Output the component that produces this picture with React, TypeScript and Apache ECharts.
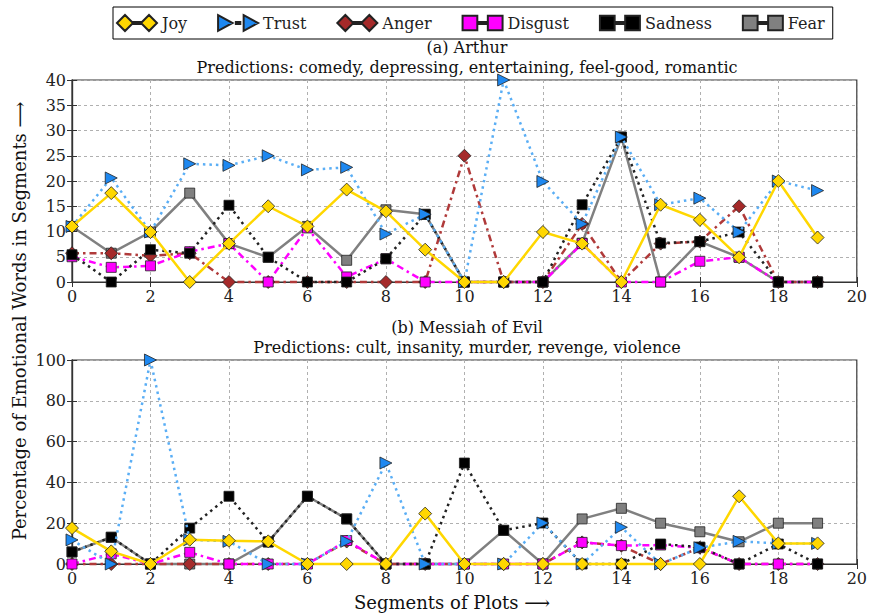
import React, { useEffect, useRef } from "react";
import * as echarts from "echarts";

const segments = [0, 1, 2, 3, 4, 5, 6, 7, 8, 9, 10, 11, 12, 13, 14, 15, 16, 17, 18, 19];
const emotions = ["Joy", "Trust", "Anger", "Disgust", "Sadness", "Fear"];

// (a) Arthur
const joyA = [11.0, 17.6, 9.9, 0, 7.6, 15.0, 11.0, 18.3, 14.0, 6.4, 0, 0, 9.9, 7.6, 0, 15.3, 12.3, 4.9, 20.0, 8.8];
const trustA = [11.0, 20.6, 9.9, 23.4, 23.1, 25.0, 22.2, 22.7, 9.5, 13.4, 0, 40, 19.9, 11.5, 28.7, 15.3, 16.6, 9.9, 20.0, 18.1];
const angerA = [5.7, 5.7, 5.2, 5.7, 0, 0, 0, 0, 0, 0, 25.0, 0, 0, 11.5, 0, 7.6, 8.0, 15.0, 0, 0];
const disgustA = [5.0, 2.9, 3.2, 6.0, 7.6, 0, 10.7, 1.0, 4.6, 0, 0, 0, 0, 7.6, 0, 0, 4.1, 4.9, 0, 0];
const sadnessA = [5.4, 0, 6.4, 5.7, 15.2, 4.9, 0, 0, 4.6, 13.4, 0, 0, 0, 15.3, 28.7, 7.7, 8.0, 9.9, 0, 0];
const fearA = [11.0, 5.7, 9.9, 17.6, 7.6, 4.9, 11.0, 4.3, 14.3, 13.4, 0, 0, 0, 7.7, 28.7, 0, 8.0, 4.9, 0, 0];

// (b) Messiah of Evil
const joyB = [17.6, 6.2, 0, 11.9, 11.4, 11.1, 0, 0, 0, 24.7, 0, 0, 0, 0, 0, 0, 0, 33.2, 10.1, 10.1];
const trustB = [11.8, 0, 100, 11.9, 11.1, 0, 0, 11.1, 49.5, 0, 0, 0, 20.1, 0, 18.0, 0, 8.0, 11.1, 10.1, 10.1];
const angerB = [0, 0, 0, 0, 0, 0, 0, 11.0, 0, 0, 0, 0, 0, 10.6, 9.0, 0, 8.0, 0, 0, 0];
const disgustB = [0, 5.0, 0, 5.7, 0, 0, 0, 11.5, 0, 0, 0, 0, 0, 10.6, 9.0, 9.3, 8.0, 0, 0, 0];
const sadnessB = [5.9, 13.1, 0, 17.6, 33.2, 10.8, 33.2, 22.1, 0, 0, 49.5, 16.5, 20.1, 0, 0, 9.8, 8.3, 0, 9.8, 0];
const fearB = [5.9, 13.1, 0, 0, 0, 10.8, 33.2, 22.1, 0, 0, 0, 16.5, 0, 22.1, 27.3, 20.0, 15.8, 10.9, 20.0, 20.0];

const panelTitles = ["(a) Arthur", "(b) Messiah of Evil"];
const panelSubtitles = [
  "Predictions: comedy, depressing, entertaining, feel-good, romantic",
  "Predictions: cult, insanity, murder, revenge, violence",
];
const yLabel = "Percentage of Emotional Words in Segments \u27F6";
const xLabel = "Segments of Plots \u27F6";

const panels = [
  { values: [joyA, trustA, angerA, disgustA, sadnessA, fearA], yMax: 40, yInterval: 5 },
  { values: [joyB, trustB, angerB, disgustB, sadnessB, fearB], yMax: 100, yInterval: 20 },
];

const FONT = "'DejaVu Serif', serif";

const DIAMOND_ICON = "path://M0,8L8,0L16,8L8,16Z M16,7H24V9H16Z M24,8L32,0L40,8L32,16Z";
const TRI_ICON = "path://M2,1L15,8L2,15Z M18,7H22V9H18Z M25,1L38,8L25,15Z";
const SQUARE_ICON = "path://M1,1H15V15H1Z M15,7H25V9H15Z M25,1H39V15H25Z";

const styles: Record<string, any> = {
  Joy: { color: "#FFD700", lineColor: "#FFD700", symbol: "diamond", size: 13, rotate: 0, line: "solid", z: 6, icon: DIAMOND_ICON },
  Trust: { color: "#1E88F0", lineColor: "#5AAEF5", symbol: "triangle", size: 12, rotate: -90, line: [2.5, 4], z: 5, icon: TRI_ICON },
  Anger: { color: "#A52A2A", lineColor: "#B03A3A", symbol: "diamond", size: 13, rotate: 0, line: [7, 4, 2.5, 4], z: 2, icon: DIAMOND_ICON },
  Disgust: { color: "#FF00FF", lineColor: "#FF00FF", symbol: "rect", size: 10, rotate: 0, line: [7, 4, 2.5, 4], z: 3, icon: SQUARE_ICON },
  Sadness: { color: "#000000", lineColor: "#222222", symbol: "rect", size: 10, rotate: 0, line: [2.5, 4], z: 4, icon: SQUARE_ICON },
  Fear: { color: "#808080", lineColor: "#808080", symbol: "rect", size: 10, rotate: 0, line: "solid", z: 1, icon: SQUARE_ICON },
};

const GRID_LEFT = 72;
const GRID_RIGHT = 8;
const gridTops = [80, 360];
const gridHeights = [202, 204];

function buildOption() {
  const grid = gridTops.map((top, i) => ({
    left: GRID_LEFT,
    right: GRID_RIGHT,
    top,
    height: gridHeights[i],
    show: true,
    borderColor: "#333",
    borderWidth: 1.2,
  }));

  const xAxis: any[] = [];
  const yAxis: any[] = [];
  panels.forEach((p, g) => {
    xAxis.push({
      gridIndex: g,
      type: "value",
      min: 0,
      max: 20,
      interval: 2,
      position: "bottom",
      axisLine: { show: true, lineStyle: { color: "#333", width: 1.2 } },
      axisTick: { show: true, inside: true, length: 5, lineStyle: { color: "#333" } },
      axisLabel: { margin: 6, fontFamily: FONT, fontSize: 16, color: "#222" },
      splitLine: { show: true, lineStyle: { type: [3, 3], color: "#b0b0b0", width: 1 } },
    });
    xAxis.push({
      gridIndex: g,
      type: "value",
      min: 0,
      max: 20,
      interval: 2,
      position: "top",
      axisLine: { show: true, lineStyle: { color: "#333", width: 1.2 } },
      axisTick: { show: true, inside: true, length: 5, lineStyle: { color: "#333" } },
      axisLabel: { show: false },
      splitLine: { show: false },
    });
    yAxis.push({
      gridIndex: g,
      type: "value",
      min: 0,
      max: p.yMax,
      interval: p.yInterval,
      position: "left",
      axisLine: { show: true, lineStyle: { color: "#333", width: 1.2 } },
      axisTick: { show: true, inside: true, length: 5, lineStyle: { color: "#333" } },
      axisLabel: { margin: 6, fontFamily: FONT, fontSize: 16, color: "#222" },
      splitLine: { show: true, lineStyle: { type: [3, 3], color: "#b0b0b0", width: 1 } },
    });
    yAxis.push({
      gridIndex: g,
      type: "value",
      min: 0,
      max: p.yMax,
      interval: p.yInterval,
      position: "right",
      axisLine: { show: true, lineStyle: { color: "#333", width: 1.2 } },
      axisTick: { show: true, inside: true, length: 5, lineStyle: { color: "#333" } },
      axisLabel: { show: false },
      splitLine: { show: false },
    });
  });

  const series: any[] = [];
  panels.forEach((p, g) => {
    emotions.forEach((name, k) => {
      const s = styles[name];
      series.push({
        type: "line",
        name,
        xAxisIndex: g * 2,
        yAxisIndex: g * 2,
        data: segments.map((x, i) => [x, p.values[k][i]]),
        symbol: s.symbol,
        symbolSize: s.size,
        symbolRotate: s.rotate,
        showSymbol: true,
        clip: false,
        z: s.z,
        itemStyle: { color: s.color, borderColor: "#222", borderWidth: 0.8 },
        lineStyle: { color: s.lineColor, width: 2.5, type: s.line },
        emphasis: { disabled: true },
      });
    });
  });

  const graphic: any[] = [];
  panels.forEach((_, g) => {
    const cy = gridTops[g];
    graphic.push({
      type: "text",
      x: 467,
      y: cy - 33,
      style: { text: panelTitles[g], font: `16px ${FONT}`, fill: "#111", textAlign: "center", textVerticalAlign: "middle" },
    });
    graphic.push({
      type: "text",
      x: 467,
      y: cy - 13,
      style: { text: panelSubtitles[g], font: `16px ${FONT}`, fill: "#111", textAlign: "center", textVerticalAlign: "middle" },
    });
  });
  graphic.push({
    type: "text",
    x: 19,
    y: 321,
    rotation: Math.PI / 2,
    style: { text: yLabel, font: `18px ${FONT}`, fill: "#111", textAlign: "center", textVerticalAlign: "middle" },
  });
  graphic.push({
    type: "text",
    x: 452,
    y: 602,
    style: { text: xLabel, font: `18px ${FONT}`, fill: "#111", textAlign: "center", textVerticalAlign: "middle" },
  });

  return {
    animation: false,
    backgroundColor: "#ffffff",
    legend: {
      left: 113,
      top: 7,
      padding: [7, 8, 7, 3],
      itemGap: 30,
      itemWidth: 40,
      itemHeight: 16,
      borderColor: "#000",
      borderWidth: 1,
      borderRadius: 0,
      selectedMode: false,
      textStyle: { fontFamily: FONT, fontSize: 16, color: "#222" },
      data: emotions.map((name) => ({ name, icon: styles[name].icon })),
    },
    grid,
    xAxis,
    yAxis,
    series,
    graphic,
  };
}

export default function App() {
  const ref = useRef<HTMLDivElement>(null);
  useEffect(() => {
    if (!ref.current) return;
    const chart = echarts.init(ref.current, undefined, { renderer: "svg" });
    chart.setOption(buildOption() as any);
    return () => chart.dispose();
  }, []);
  return (
    <div
      ref={ref}
      style={{ position: "fixed", left: 0, top: 0, width: 870, height: 614, background: "#fff" }}
    />
  );
}
